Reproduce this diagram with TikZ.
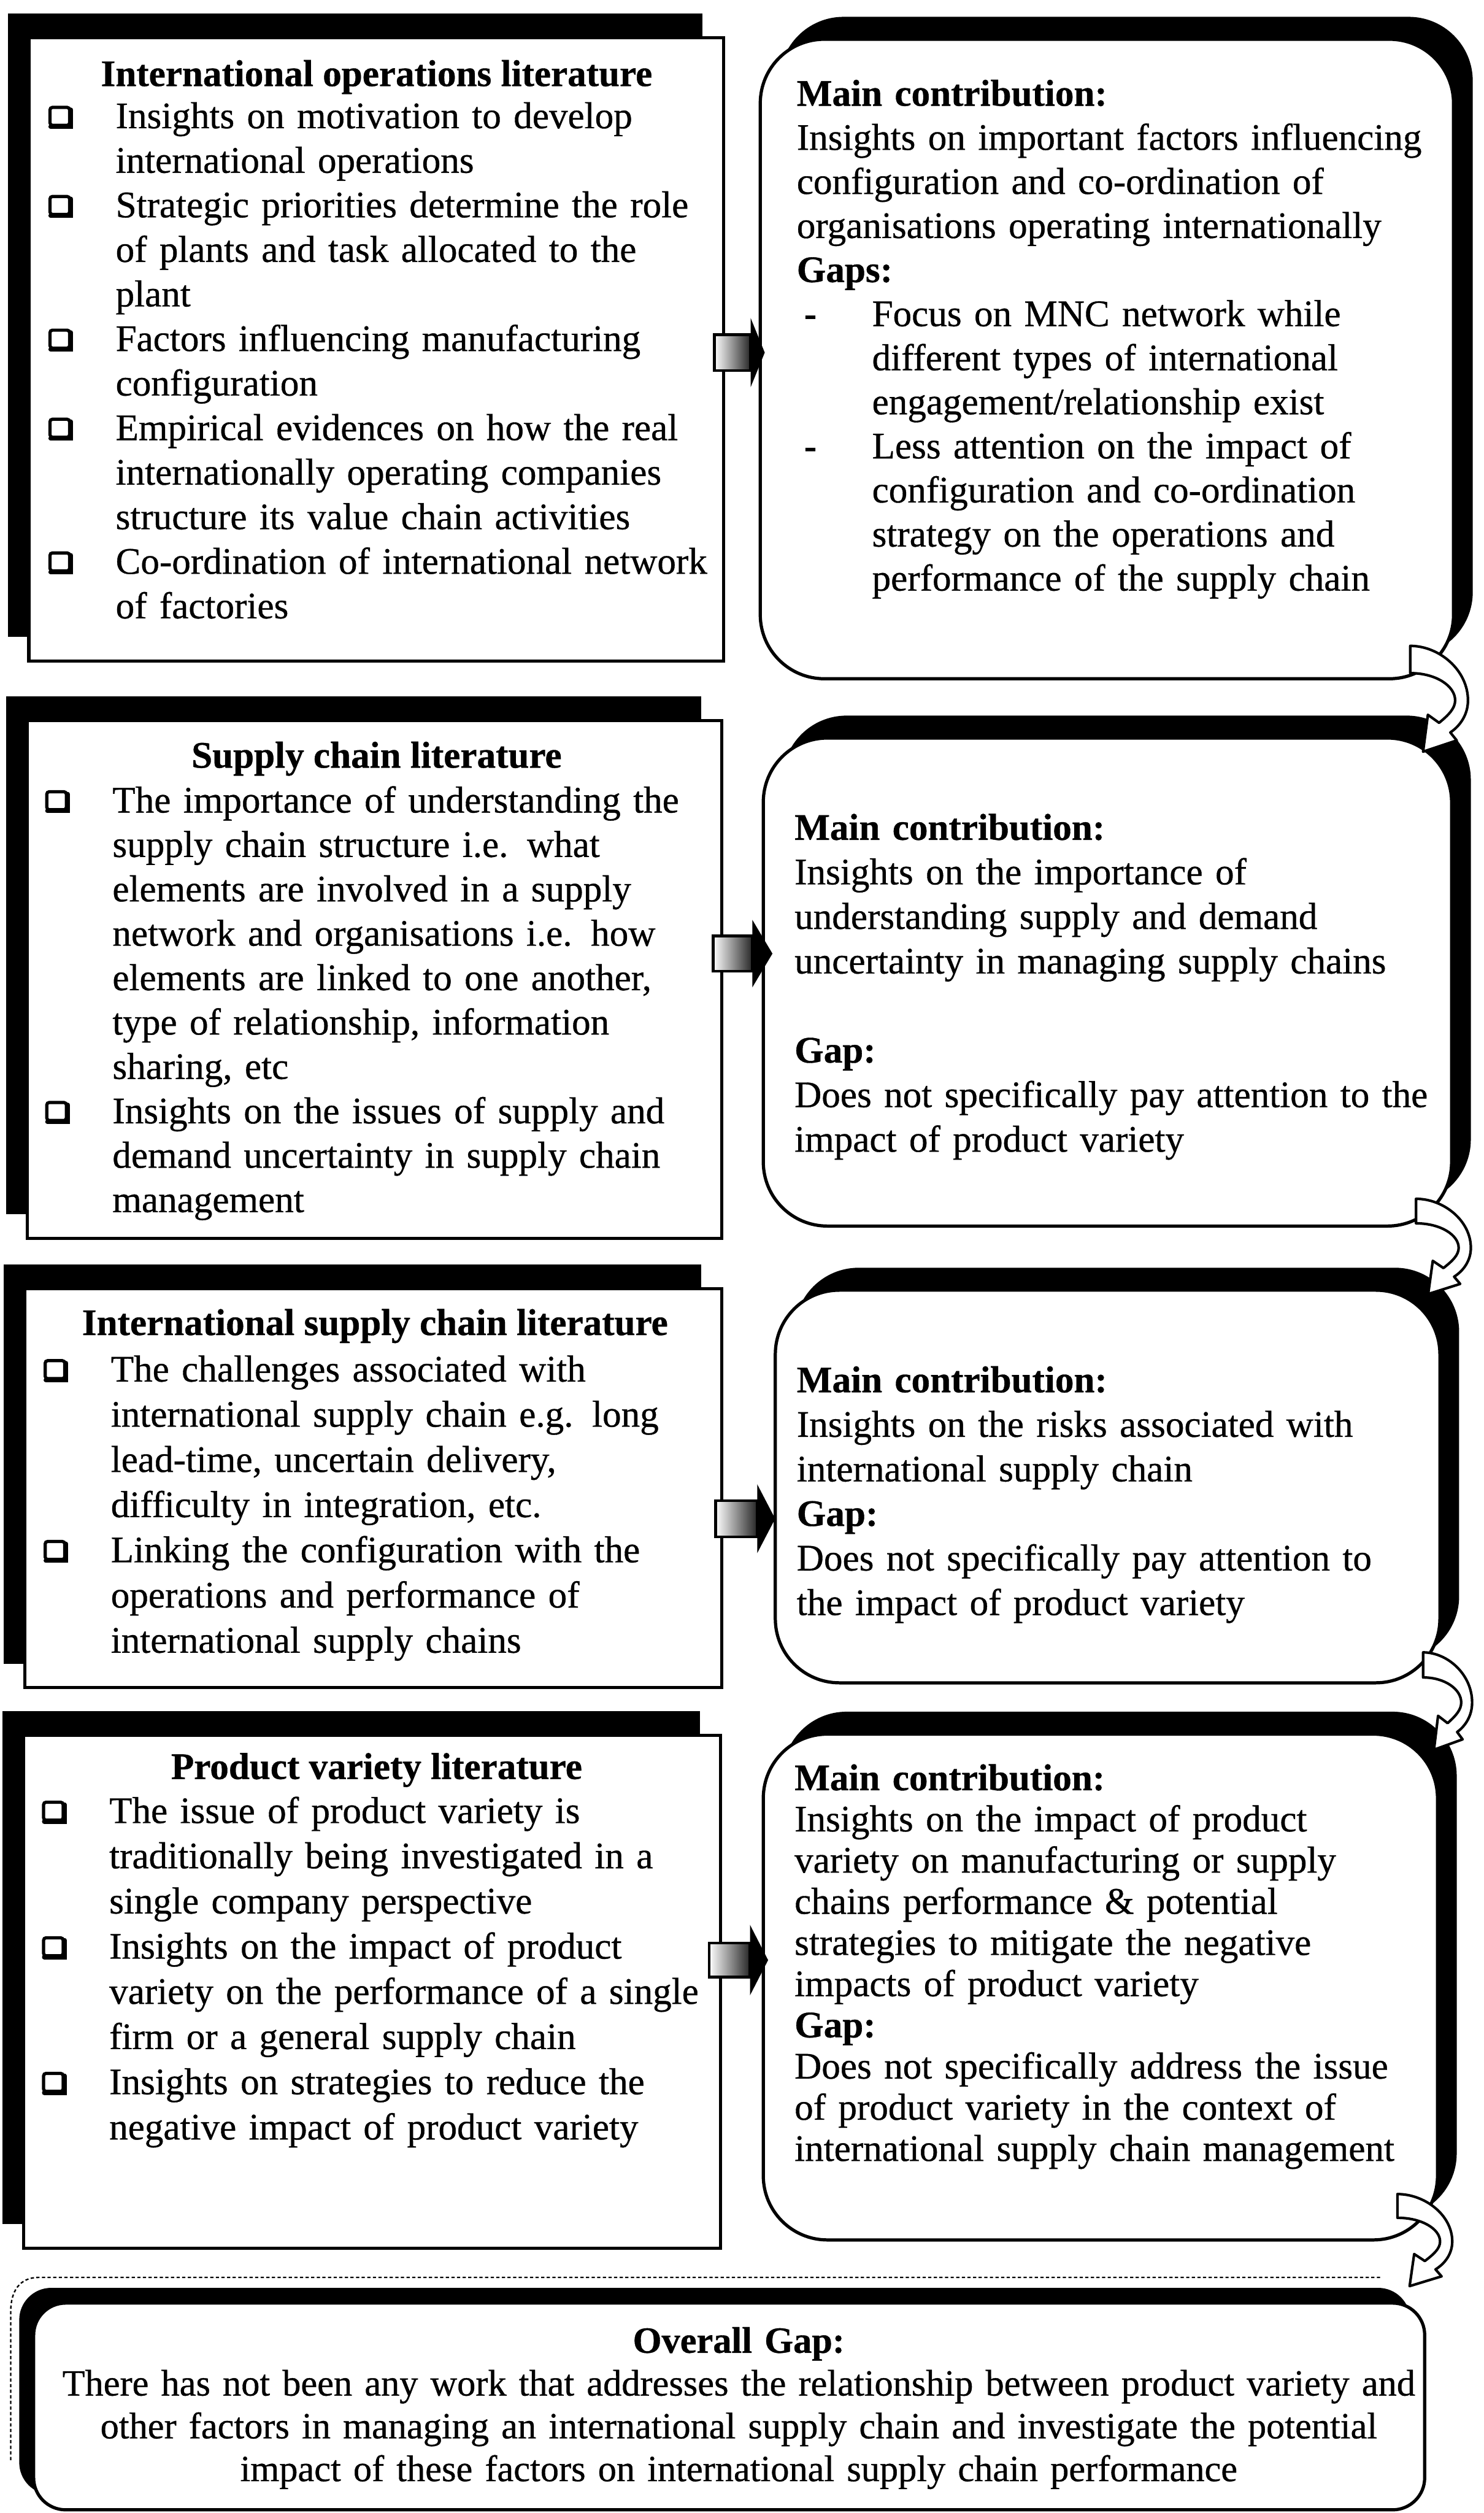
\documentclass[tikz,border=0pt]{standalone}
\usepackage{fontspec}
\setmainfont{Liberation Serif}
\usetikzlibrary{shadows}

% body text size with a chosen line pitch, slightly heavier strokes
\newcommand\bodysize[1]{\fontsize{23.4pt}{#1}\selectfont\addfontfeatures{FakeBold=0.6}}
% hollow square bullet with a heavier lower/right edge
\newcommand\sqbullet{\tikz[baseline=0pt]{%
  \draw[line width=2pt,rounded corners=1.5pt] (1pt,1.8pt) rectangle (13.2pt,13pt);
  \draw[line width=2.8pt,line cap=round] (1.4pt,1pt) -- (14pt,1pt) -- (14pt,11.5pt);}}
\newcommand\sqitem{\hangindent=42pt\hangafter=1\makebox[42pt][l]{\sqbullet}}
\newcommand\dashitem{\hangindent=47pt\hangafter=1\makebox[47pt][l]{\hspace{4.6pt}\textbf{-}}}

% straight block arrow: shaft left, head base, tip x, centre y, shaft half height, head half height
\newcommand\blockarrow[6]{%
  \shade[left color=white, middle color=white, right color=black!85, draw=black, line width=1.8pt]
    (#1,{#4-#5}) rectangle (#2,{#4+#5});
  \fill[black] (#2,{#4-#6}) -- (#3,#4) -- (#2,{#4+#6}) -- cycle;}

% curved ribbon arrow turning down to the next box: tail position, x scale, y scale
\newcommand\bendarrow[4]{%
  \begin{scope}[shift={(#1,#2)}, xscale=#3, yscale=#4]
    \filldraw[fill=white, draw=black, line width=1.6pt, line join=round]
      (0,0) .. controls (18,0) and (36,15) .. (36,34)
      .. controls (36,43) and (31,50) .. (25,54)
      -- (29,59) -- (8,66) -- (11,43) -- (18,48)
      .. controls (24,43) and (28,39) .. (28,34)
      .. controls (28,25) and (16,17) .. (0,17) -- cycle;
  \end{scope}}

\tikzset{
  litbox/.style={draw=black, line width=2pt, fill=white, inner sep=0pt, outer sep=0pt,
    general shadow={fill=black, shadow xshift=-13pt, shadow yshift=15pt}},
  findbox/.style={draw=black, line width=2pt, fill=white, inner sep=0pt, outer sep=0pt,
    rounded corners=40pt,
    general shadow={fill=black, shadow xshift=12pt, shadow yshift=14pt}},
  gapbox/.style={draw=black, line width=2pt, fill=white, inner sep=0pt, outer sep=0pt,
    rounded corners=20pt,
    general shadow={fill=black, shadow xshift=-9pt, shadow yshift=9.5pt}},
  heading/.style={anchor=base, inner sep=0pt, font={\bodysize{27.8pt}\bfseries}},
  listtext/.style={anchor=base west, inner sep=0pt, text width=480pt},
}

\begin{document}
\begin{tikzpicture}[x=1pt,y=-1pt]
\fill[white] (0,0) rectangle (926,1568);
\useasboundingbox (0,0) rectangle (926,1568);

% ---------- literature boxes (left column) ----------
\node[litbox, minimum width=433.5pt, minimum height=389pt] (b1) at (234.75,218) {};
\node[litbox, minimum width=433.5pt, minimum height=323.1pt] (b2) at (233.75,611.05) {};
\node[litbox, minimum width=435.1pt, minimum height=249pt] (b3) at (232.95,928.5) {};
\node[litbox, minimum width=434.9pt, minimum height=320pt] (b4) at (232.15,1242.8) {};

% ---------- findings boxes (right column) ----------
\node[findbox, minimum width=432.6pt, minimum height=399pt] (r1) at (690.7,224) {};
\node[findbox, minimum width=429.5pt, minimum height=304.5pt] (r2) at (691.05,612.75) {};
\node[findbox, minimum width=414.7pt, minimum height=245pt] (r3) at (691.15,927.5) {};
\node[findbox, minimum width=420.7pt, minimum height=315.6pt] (r4) at (686.65,1239.8) {};

% ---------- overall gap ----------
\draw[line width=0.9pt, dash pattern=on 2pt off 1.5pt]
  (6.7,1535) -- (6.7,1442) .. controls (6.7,1430) and (12,1421) .. (24,1421) -- (862,1421);
\node[gapbox, minimum width=868pt, minimum height=129pt] (g) at (455,1501.5) {};

% ---------- texts ----------
\node[heading] (b1h) at (235,53.7) {International operations literature};
\node[listtext, font={\bodysize{27.8pt}}] (b1l) at (30,80) {%
\sqitem Insights on motivation to develop\newline international operations\par
\sqitem Strategic priorities determine the role\newline of plants and task allocated to the\newline plant\par
\sqitem Factors influencing manufacturing\newline configuration\par
\sqitem Empirical evidences on how the real\newline internationally operating companies\newline structure its value chain activities\par
\sqitem Co-ordination of international network\newline of factories\par};

\node[heading] (b2h) at (235,479) {Supply chain literature};
\node[listtext, font={\bodysize{27.7pt}}] (b2l) at (28,507) {%
\sqitem The importance of understanding the\newline supply chain structure i.e. what\newline elements are involved in a supply\newline network and organisations i.e. how\newline elements are linked to one another,\newline type of relationship, information\newline sharing, etc\par
\sqitem Insights on the issues of supply and\newline demand uncertainty in supply chain\newline management\par};

\node[heading] (b3h) at (234,833) {International supply chain literature};
\node[listtext, font={\bodysize{28.2pt}}] (b3l) at (27,862) {%
\sqitem The challenges associated with\newline international supply chain e.g. long\newline lead-time, uncertain delivery,\newline difficulty in integration, etc.\par
\sqitem Linking the configuration with the\newline operations and performance of\newline international supply chains\par};

\node[heading] (b4h) at (235,1110) {Product variety literature};
\node[listtext, font={\bodysize{28.2pt}}] (b4l) at (26,1137.5) {%
\sqitem The issue of product variety is\newline traditionally being investigated in a\newline single company perspective\par
\sqitem Insights on the impact of product\newline variety on the performance of a single\newline firm or a general supply chain\par
\sqitem Insights on strategies to reduce the\newline negative impact of product variety\par};

\node[listtext, font={\bodysize{27.5pt}}] (r1t) at (497,66) {%
\textbf{Main contribution:}\newline
Insights on important factors influencing\newline
configuration and co-ordination of\newline
organisations operating internationally\newline
\textbf{Gaps:}\par
\dashitem Focus on MNC network while\newline different types of international\newline engagement/relationship exist\par
\dashitem Less attention on the impact of\newline configuration and co-ordination\newline strategy on the operations and\newline performance of the supply chain\par};

\node[listtext, font={\bodysize{27.8pt}}] (r2t) at (495.6,524) {%
\textbf{Main contribution:}\newline
Insights on the importance of\newline
understanding supply and demand\newline
uncertainty in managing supply chains\newline
\mbox{}\newline
\textbf{Gap:}\newline
Does not specifically pay attention to the\newline
impact of product variety\par};

\node[listtext, font={\bodysize{27.8pt}}] (r3t) at (497,868.7) {%
\textbf{Main contribution:}\newline
Insights on the risks associated with\newline
international supply chain\newline
\textbf{Gap:}\newline
Does not specifically pay attention to\newline
the impact of product variety\par};

\node[listtext, font={\bodysize{25.7pt}}] (r4t) at (495.6,1117) {%
\textbf{Main contribution:}\newline
Insights on the impact of product\newline
variety on manufacturing or supply\newline
chains performance \& potential\newline
strategies to mitigate the negative\newline
impacts of product variety\newline
\textbf{Gap:}\newline
Does not specifically address the issue\newline
of product variety in the context of\newline
international supply chain management\par};

\node[anchor=base, inner sep=0pt, text width=900pt, font={\fontsize{23.1pt}{26.7pt}\selectfont\addfontfeatures{FakeBold=0.6}}] (gt) at (461,1468) {%
\centering\textbf{Overall Gap:}\\
There has not been any work that addresses the relationship between product variety and\\
other factors in managing an international supply chain and investigate the potential\\
impact of these factors on international supply chain performance\par};

% ---------- arrows from each literature box to its findings ----------
\blockarrow{445.8}{468.4}{477.2}{220}{11.2}{21.6}
\blockarrow{445}{469.5}{482}{595}{11}{21}
\blockarrow{446.5}{472.5}{483.7}{947.6}{11.3}{21.5}
\blockarrow{442.5}{468}{479.3}{1223}{10.7}{22}

% ---------- curved arrows down the right side ----------
\bendarrow{880}{403}{1}{1}
\bendarrow{883.6}{748}{0.95}{0.9}
\bendarrow{888}{1031}{0.85}{0.92}
\bendarrow{872}{1369}{0.95}{0.87}
\end{tikzpicture}
\end{document}
